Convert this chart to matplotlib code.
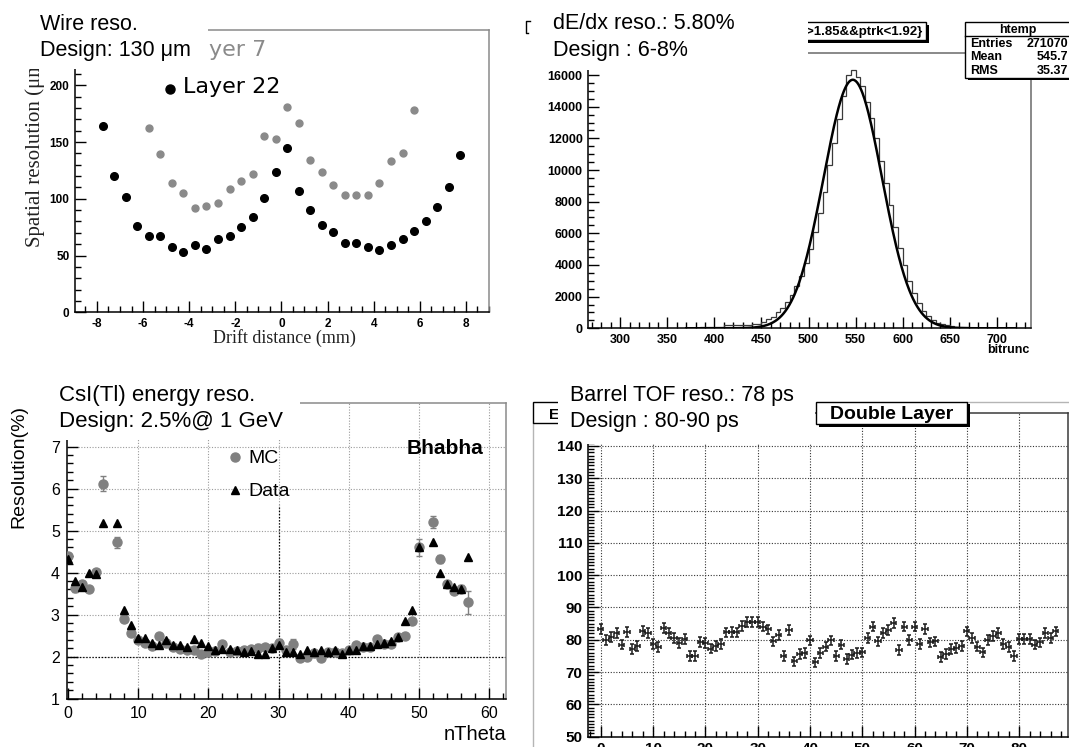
import matplotlib
matplotlib.use('Agg')
import matplotlib.pyplot as plt
from matplotlib.patches import Rectangle
from matplotlib.lines import Line2D
from matplotlib.ticker import MultipleLocator
import numpy as np

plt.rcParams['axes.unicode_minus'] = False

# ---------------- data ----------------
# Wire resolution (drift distance in mm, resolution in um)
wire_x22 = [-7.75, -7.25, -6.75, -6.25, -5.75, -5.25, -4.75, -4.25, -3.75, -3.25, -2.75, -2.25,
            -1.75, -1.25, -0.75, -0.25, 0.25, 0.75, 1.25, 1.75, 2.25, 2.75, 3.25, 3.75, 4.25,
            4.75, 5.25, 5.75, 6.25, 6.75, 7.25, 7.75]
wire_l22 = [164.5, 120.4, 101.3, 76.4, 67.0, 67.0, 57.9, 53.2, 59.3, 56.1, 64.3, 67.0,
            75.5, 83.7, 100.7, 123.9, 144.8, 106.9, 89.9, 76.7, 71.1, 61.4, 60.8, 57.6, 55.2,
            59.6, 64.3, 72.0, 80.2, 92.5, 110.1, 138.9]
wire_x7 = [-5.75, -5.25, -4.75, -4.25, -3.75, -3.25, -2.75, -2.25, -1.75, -1.25, -0.75, -0.25,
           0.25, 0.75, 1.25, 1.75, 2.25, 2.75, 3.25, 3.75, 4.25, 4.75, 5.25, 5.75]
wire_l7 = [162.7, 139.2, 114.2, 105.4, 91.6, 93.7, 96.0, 109.0, 115.7, 121.6, 155.1, 153.0,
           181.2, 166.5, 134.5, 123.3, 112.5, 103.1, 103.1, 103.1, 113.7, 133.6, 140.7, 178.0]

# dE/dx histogram (bitrunc), 5-unit bins from 265 to 735
hist_edges = list(range(265, 740, 5))
hist_counts = [0]*13 + [5, 5, 5, 10, 10, 10, 15, 20, 25,
               40, 50, 60, 70, 80, 90, 110, 190, 200, 210, 220, 230, 230, 250, 290,
               400, 560, 740, 1000, 1300, 1650, 2100, 2650, 3300, 4100,
               5000, 6100, 7300, 8600, 10300, 11700, 13200, 14700, 16000, 16300,
               15900, 15300, 14300, 13300, 12000, 10600, 9200, 7800, 6400, 5100,
               4000, 3000, 2250, 1600, 1100, 760, 520, 360, 250, 180,
               130, 100, 80, 60, 50, 40, 30, 25, 20, 15,
               10, 10, 10, 8, 8, 5, 5]
fit_amp, fit_mean, fit_sigma = 15700.0, 547.0, 31.0
stats_rows = [("Entries", "271070"), ("Mean", "545.7"), ("RMS", "35.37")]

# CsI(Tl) energy resolution vs nTheta
csi_x = [0, 1, 2, 3, 4, 5, 7, 8, 9, 10, 11, 12, 13, 14, 15, 16, 17, 18, 19, 20, 21, 22, 23,
         24, 25, 26, 27, 28, 29, 30, 31, 32, 33, 34, 35, 36, 37, 38, 39, 40, 41, 42, 43, 44,
         45, 46, 47, 48, 49, 50, 52, 53, 54, 55, 56, 57]
csi_mc = [4.40, 3.63, 3.74, 3.62, 4.02, 6.12, 4.72, 2.89, 2.57, 2.40, 2.32, 2.26, 2.49, 2.33,
          2.24, 2.18, 2.17, 2.17, 2.07, 2.12, 2.14, 2.29, 2.10, 2.14, 2.17, 2.18, 2.20, 2.22,
          2.21, 2.33, 2.15, 2.31, 1.97, 2.00, 2.08, 1.98, 2.12, 2.12, 2.08, 2.15, 2.28, 2.22,
          2.22, 2.42, 2.30, 2.30, 2.48, 2.50, 2.84, 4.60, 5.21, 4.32, 3.72, 3.57, 3.62, 3.29]
csi_mc_err = [0.05, 0.10, 0.05, 0.03, 0.05, 0.18, 0.14, 0.05, 0.03, 0.03, 0.03, 0.03, 0.03, 0.03,
              0.03, 0.03, 0.03, 0.03, 0.03, 0.03, 0.03, 0.07, 0.03, 0.03, 0.03, 0.06, 0.10, 0.05,
              0.04, 0.10, 0.04, 0.12, 0.03, 0.03, 0.03, 0.03, 0.03, 0.03, 0.03, 0.03, 0.03, 0.03,
              0.03, 0.03, 0.03, 0.03, 0.03, 0.03, 0.05, 0.20, 0.14, 0.10, 0.05, 0.05, 0.08, 0.28]
csi_data = [4.32, 3.81, 3.65, 3.99, 3.96, 5.17, 5.17, 3.11, 2.75, 2.44, 2.44, 2.32, 2.28, 2.40,
            2.28, 2.28, 2.24, 2.41, 2.32, 2.26, 2.17, 2.19, 2.18, 2.16, 2.10, 2.13, 2.07, 2.07,
            2.20, 2.28, 2.10, 2.10, 2.07, 2.15, 2.10, 2.17, 2.12, 2.17, 2.07, 2.15, 2.15, 2.25,
            2.25, 2.30, 2.32, 2.38, 2.48, 2.85, 3.12, 4.62, 4.72, 3.98, 3.73, 3.65, 3.60, 4.38]

# Barrel TOF resolution (ps) per counter
tof_x = list(range(88))
tof_y = [83.3, 80.0, 80.8, 82.0, 78.5, 82.5, 77.2, 78.0, 82.8, 82.0,
         78.8, 77.8, 83.6, 82.2, 80.6, 79.0, 80.3, 75.0, 75.0, 79.3,
         79.0, 77.3, 78.0, 78.8, 82.3, 82.4, 82.3, 84.3, 85.5, 85.5,
         85.6, 84.1, 83.2, 79.5, 81.5, 75.0, 83.0, 73.3, 75.7, 75.9,
         79.8, 73.0, 75.9, 77.9, 79.8, 75.0, 78.5, 74.0, 75.4, 75.9,
         76.1, 80.5, 84.1, 79.5, 82.0, 83.1, 85.2, 76.9, 84.1, 80.0,
         84.1, 78.8, 83.3, 79.2, 79.5, 74.6, 75.7, 77.1, 77.4, 78.1,
         82.6, 80.5, 77.9, 76.1, 80.0, 81.2, 82.1, 78.8, 77.7, 75.0,
         80.2, 80.2, 80.2, 78.5, 79.2, 82.1, 80.5, 82.6]
tof_err = 1.5

# ---------------- figure helpers ----------------
W, H = 1069, 747
fig = plt.figure(figsize=(W / 100, H / 100), dpi=100)
fig.patch.set_facecolor('white')
SANS = 'Liberation Sans'
SERIF = 'Liberation Serif'


def add_ax(x0, yt, x1, yb):
    return fig.add_axes([x0 / W, 1 - yb / H, (x1 - x0) / W, (yb - yt) / H])


def txt(x, y, s, **kw):
    kw.setdefault('family', SANS)
    kw.setdefault('zorder', 20)
    kw.setdefault('va', 'baseline')
    return fig.text(x / W, 1 - y / H, s, **kw)


def rect(x0, y0, x1, y1, fc='white', ec='none', lw=1.0, z=10):
    r = Rectangle((x0 / W, 1 - y1 / H), (x1 - x0) / W, (y1 - y0) / H,
                  transform=fig.transFigure, facecolor=fc, edgecolor=ec,
                  linewidth=lw, zorder=z)
    fig.add_artist(r)


def line(xs, ys, color='black', lw=1.0, z=15, **kw):
    fig.add_artist(Line2D([x / W for x in xs], [1 - y / H for y in ys],
                          transform=fig.transFigure, color=color, lw=lw, zorder=z, **kw))


def relabel(ax, weight):
    for lab in ax.get_xticklabels() + ax.get_yticklabels():
        lab.set_fontfamily(SANS)
        lab.set_fontweight(weight)


def style(ax, xmaj, xmin, ymaj, ymin, fs, weight, pad=3, majlen=7, minlen=4,
          frame_color='#7a7a7a'):
    ax.xaxis.set_major_locator(MultipleLocator(xmaj))
    ax.xaxis.set_minor_locator(MultipleLocator(xmin))
    ax.yaxis.set_major_locator(MultipleLocator(ymaj))
    ax.yaxis.set_minor_locator(MultipleLocator(ymin))
    ax.tick_params(which='both', direction='in', top=False, right=False,
                   labelsize=fs, pad=pad, width=1, color='black')
    ax.tick_params(which='major', length=majlen)
    ax.tick_params(which='minor', length=minlen)
    for sp in ('left', 'bottom'):
        ax.spines[sp].set_color('black')
        ax.spines[sp].set_linewidth(1.1)
    for sp in ('top', 'right'):
        ax.spines[sp].set_color(frame_color)
        ax.spines[sp].set_linewidth(1.1)
    relabel(ax, weight)


# ---------------- panel 1: wire resolution ----------------
ax1 = add_ax(75, 30, 489, 312.3)
ax1.set_xlim(-8.95, 9.0)
ax1.set_ylim(0, 248.7)
ax1.plot(wire_x7, wire_l7, 'o', ms=5, color='#8a8a8a', mec='#8a8a8a', zorder=3)
ax1.plot(wire_x22, wire_l22, 'o', ms=5.5, color='black', zorder=4)
style(ax1, 2, 0.5, 50, 10, 8.5, 'bold', pad=4, majlen=8, minlen=4, frame_color='#8a8a8a')
ax1.set_yticks([0, 50, 100, 150, 200])
relabel(ax1, 'bold')

txt(35, 247, 'Spatial resolution (\u03bcm)', family=SERIF, fontsize=15, rotation=90,
    ha='center', va='bottom', zorder=2, color='#222222')
txt(284, 343, 'Drift distance (mm)', family=SERIF, fontsize=13, ha='center', color='#222222')

# legend
txt(183, 56, 'Layer 7', family='DejaVu Sans', fontsize=16, color='#8a8a8a', zorder=5)
line([170], [51], marker='o', ms=6, color='#8a8a8a', lw=0, z=5)
txt(183, 93, 'Layer 22', family='DejaVu Sans', fontsize=16, color='black', zorder=5)
line([170], [89], marker='o', ms=6.5, color='black', lw=0, z=5)

# ---------------- panel 2: dE/dx ----------------
ax2 = add_ax(588.3, 52.7, 1030.7, 328.3)
ax2.set_xlim(266, 736)
ax2.set_ylim(0, 17410)
ax2.stairs(hist_counts, hist_edges, color='#3a3a3a', lw=0.9, zorder=3)
fx = np.linspace(370, 720, 500)
ax2.plot(fx, fit_amp * np.exp(-0.5 * ((fx - fit_mean) / fit_sigma) ** 2),
         color='black', lw=1.8, zorder=4)
style(ax2, 50, 10, 2000, 500, 9, 'bold', pad=4, majlen=8, minlen=4, frame_color='#6a6a6a')
ax2.set_xticks([300, 350, 400, 450, 500, 550, 600, 650, 700])
relabel(ax2, 'bold')
txt(1030, 353, 'bitrunc', fontsize=9, fontweight='bold', ha='right')

# histogram title box (partly hidden)
rect(782.5, 24.5, 928.5, 42.5, fc='black', z=7)
rect(770, 21.7, 926, 40, fc='white', ec='black', lw=1, z=8)
txt(923, 34.5, '{ptrk>1.85&&ptrk<1.92}', fontsize=9.5, fontweight='bold', ha='right', zorder=9)

# stats box
rect(967.5, 24, 1075, 80, fc='black', z=11)
rect(965, 21.7, 1075, 77.7, fc='white', ec='black', lw=1, z=12)
line([965, 1069], [35.5, 35.5], lw=1, z=13)
txt(1018, 32.5, 'htemp', fontsize=9, fontweight='bold', ha='center', zorder=14)
for i, (k, v) in enumerate(stats_rows):
    yb = 47 + 13.5 * i
    txt(970, yb, k, fontsize=9, fontweight='bold', zorder=14)
    txt(1068, yb, v, fontsize=9, fontweight='bold', ha='right', zorder=14)

# ---------------- panel 3: CsI ----------------
ax3 = add_ax(66.7, 403.3, 506, 698.7)
ax3.set_xlim(-0.2, 62.4)
ax3.set_ylim(1, 8.03)
gridkw = dict(color='#9a9a9a', lw=0.8, ls=(0, (1, 1.5)), zorder=1)
for gx in [10, 20, 30, 40, 50, 60]:
    ax3.axvline(gx, **gridkw)
for gy in [2, 3, 4, 5, 6, 7]:
    ax3.axhline(gy, **gridkw)
ax3.axhline(2, color='black', lw=0.9, ls=(0, (1, 1.5)), zorder=1.5)
ax3.plot([30, 30], [1, 5.6], color='black', lw=0.9, ls=(0, (1, 1.5)), zorder=1.5)
ax3.errorbar(csi_x, csi_mc, yerr=csi_mc_err, fmt='o', color='#808080', ms=6.5,
             elinewidth=1, capsize=2, zorder=3)
ax3.plot(csi_x, csi_data, '^', color='black', ms=5.5, zorder=4)
style(ax3, 10, 2, 1, 0.2, 11.5, 'normal', pad=5, majlen=8, minlen=4, frame_color='#8a8a8a')
txt(19, 467, 'Resolution(%)', fontsize=14, rotation=90, ha='center', va='center', zorder=20)
txt(506.7, 740, 'nTheta', fontsize=14.5, ha='right')
line([235], [457], marker='o', ms=6.5, color='#808080', lw=0, z=20)
txt(248, 462.5, 'MC', fontsize=14)
line([235], [490], marker='^', ms=5.5, color='black', lw=0, z=20)
txt(248, 496, 'Data', fontsize=14)
txt(483, 454, 'Bhabha', fontsize=15, fontweight='bold', ha='right')

# ---------------- panel 4: TOF ----------------
ax4 = add_ax(588.3, 412.7, 1068.3, 736.7)
ax4.set_xlim(-2.4, 89.4)
ax4.set_ylim(50, 150.3)
gridkw4 = dict(color='#333333', lw=0.8, ls=(0, (1, 1.5)), zorder=1)
for gx in range(0, 90, 10):
    ax4.axvline(gx, **gridkw4)
for gy in range(60, 150, 10):
    ax4.axhline(gy, **gridkw4)
ax4.errorbar(tof_x, tof_y, xerr=0.5, yerr=tof_err, fmt='none', ecolor='#1a1a1a',
             elinewidth=1.1, capsize=1.5, capthick=1.1, zorder=3)
style(ax4, 10, 2, 10, 1, 11, 'bold', pad=4, majlen=8, minlen=4, frame_color='#3a3a3a')

# pad border and boxes
line([533, 533], [423, 747], color='#b5b5b5', lw=1, z=6)
line([967, 1069], [401.7, 401.7], color='#b5b5b5', lw=1, z=6)
rect(533, 401.7, 720, 423.3, fc='white', ec='black', lw=1, z=8)
txt(548.5, 419, 'E', fontsize=11, fontweight='bold', zorder=9)
rect(818.5, 404, 969.5, 426.5, fc='black', z=11)
rect(816, 401.7, 967, 424, fc='white', ec='black', lw=1, z=12)
txt(891.5, 419, 'Double Layer', fontsize=14, fontweight='bold', ha='center', zorder=14)

# ---------------- white overlays with summary text ----------------
rect(0, 0, 208, 69, z=10)
rect(519, 0, 808, 69.5, z=10)
rect(30, 370, 300, 440, z=10)
rect(558, 370, 815, 438, z=10)
rect(586, 437, 815, 444, z=10)

txt(40, 29.5, 'Wire reso.', fontsize=15.5)
txt(40, 56, 'Design: 130 \u03bcm', fontsize=15.5)
line([530, 526, 526, 528], [21, 21, 33, 33], lw=1, z=20)
txt(553, 29, 'dE/dx reso.: 5.80%', fontsize=15.5)
txt(553, 56, 'Design : 6-8%', fontsize=15.5)
txt(59, 401.5, 'CsI(Tl) energy reso.', fontsize=16)
txt(59, 427, 'Design: 2.5%@ 1 GeV', fontsize=16)
txt(570, 401.5, 'Barrel TOF reso.: 78 ps', fontsize=15.5)
txt(570, 427.5, 'Design : 80-90 ps', fontsize=15.5)

fig.savefig('out.png', dpi=100, facecolor='white')
